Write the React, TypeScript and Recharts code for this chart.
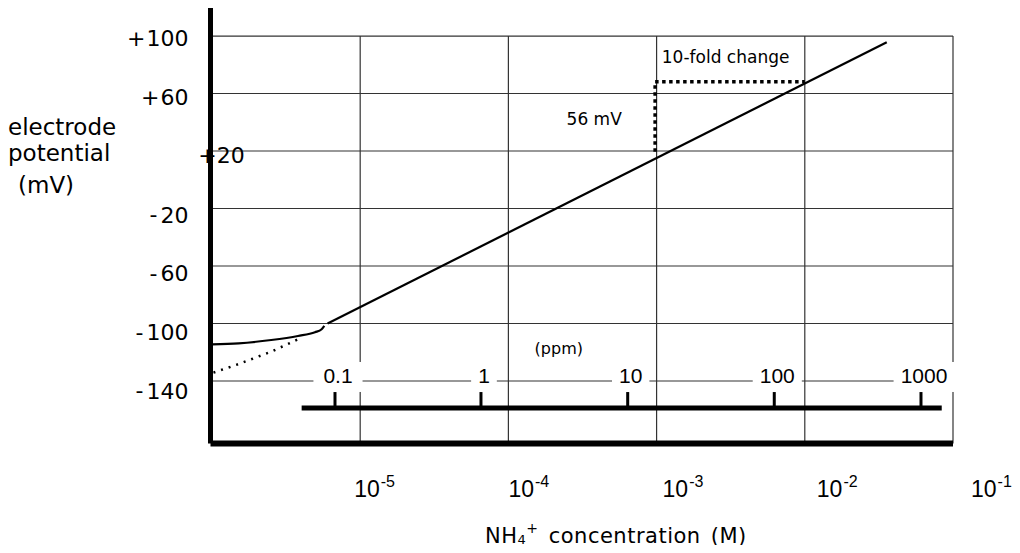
import {
    LineChart,
    Line,
    XAxis,
    YAxis,
    ReferenceLine,
    ReferenceDot,
} from "recharts";

// x = log10 of NH4+ concentration (M), y = electrode potential (mV)
const lowEndCurve = [
    { logC: -6.0, mV: -114.5 },
    { logC: -5.82, mV: -113.8 },
    { logC: -5.6, mV: -111.5 },
    { logC: -5.42, mV: -108.7 },
    { logC: -5.305, mV: -106.1 },
    { logC: -5.26, mV: -104.0 },
    { logC: -5.242, mV: -101.7 },
];

const nernstLine = [
    { logC: -5.22, mV: -100.0 },
    { logC: -1.447, mV: 95.6 },
];

const extrapolation = [
    { logC: -5.99, mV: -134.2 },
    { logC: -5.82, mV: -128.2 },
    { logC: -5.6, mV: -119.6 },
    { logC: -5.42, mV: -111.0 },
];

const tenFoldStep = [
    { logC: -3.01, mV: 19.5 },
    { logC: -3.01, mV: 68.2 },
    { logC: -2.0, mV: 68.2 },
];

const decades = [-5, -4, -3, -2, -1];
const mvTicks = [-140, -100, -60, -20, 20, 60, 100];

// ppm scale drawn inside the plot
const ppmLabels = ["0.1", "1", "10", "100", "1000"];
const ppmLogC = [-5.17, -4.185, -3.195, -2.206, -1.216];
const ppmBarEnds = [-5.395, -1.076];

const X_DOMAIN = [-6.01, -1];
const Y_DOMAIN = [-183.5, 119.5];
const PPM_BAR_MV = -158.8;
const PPM_TICK_TOP_MV = -147.7;

const sans = '"DejaVu Sans", sans-serif';
const arial = '"Liberation Sans", Arial, sans-serif';
const gridColor = "#333";

function XTick(props: any) {
    const { x, y, payload } = props;
    const v = payload.value;
    // labels sit a little right of their grid lines, more so further right
    const dx = -6 + (v + 5) * 6;
    return (
        <text
            x={x + dx}
            y={y + 53.5}
            fontFamily={'"Liberation Sans Narrow", "Liberation Sans", sans-serif'}
            fontSize={23}
            fill="#000"
        >
            10
            <tspan dx={1} dy={-10} fontSize={16}>
                {String(v)}
            </tspan>
        </text>
    );
}

function YTick(props: any) {
    const { x, y, payload } = props;
    const v = payload.value;
    const dy = 2.3 + ((100 - v) / 240) * 7.5;
    const sign = v > 0 ? "+" : "-";
    const num = String(Math.abs(v));
    if (v === 20) {
        return (
            <text x={x - 12.2} y={y + dy} dominantBaseline="central" fontFamily={sans} fontSize={22} fill="#000">
                {sign}
                {num}
            </text>
        );
    }
    return (
        <text
            x={x - 22}
            y={y + dy}
            textAnchor="end"
            dominantBaseline="central"
            fontFamily={sans}
            fontSize={22}
            fill="#000"
        >
            {sign}
            <tspan dx={v < 0 ? 3 : 1}>{num}</tspan>
        </text>
    );
}

function ppmLabelShape(text: string) {
    return (p: any) => {
        const w = text.length * 11.7 + 14;
        return (
            <g>
                <rect x={p.cx - w / 2 + 3} y={p.cy - 19} width={w} height={30} fill="#fff" />
                <text x={p.cx + 3} y={p.cy + 2.5} textAnchor="middle" fontFamily={arial} fontSize={21} fill="#000">
                    {text}
                </text>
            </g>
        );
    };
}

function noteShape(text: string, dx: number, dy: number, anchor: string, size: number) {
    return (p: any) => (
        <text x={p.cx + dx} y={p.cy + dy} textAnchor={anchor} fontFamily={sans} fontSize={size} fill="#000">
            {text}
        </text>
    );
}

export default function App() {
    return (
        <div style={{ position: "relative", width: 1012, height: 537 }}>
            <LineChart
                width={1012}
                height={537}
                margin={{ top: 0, right: 67, bottom: 41.5, left: 0 }}
            >
                <XAxis
                    type="number"
                    dataKey="logC"
                    domain={X_DOMAIN}
                    ticks={decades}
                    allowDataOverflow
                    height={60}
                    tickSize={0}
                    tickMargin={0}
                    tickLine={false}
                    tick={<XTick />}
                    axisLine={{ stroke: "#000", strokeWidth: 6 }}
                />
                <YAxis
                    type="number"
                    dataKey="mV"
                    domain={Y_DOMAIN}
                    ticks={mvTicks}
                    allowDataOverflow
                    width={202.5}
                    tickSize={0}
                    tickMargin={0}
                    tickLine={false}
                    tick={<YTick />}
                    axisLine={{ stroke: "#000", strokeWidth: 5 }}
                />
                {mvTicks.map((v) => (
                    <ReferenceLine key={"h" + v} y={v} stroke={gridColor} strokeWidth={1.2} />
                ))}
                {decades.map((d) => (
                    <ReferenceLine
                        key={"v" + d}
                        segment={[
                            { x: d, y: 100 },
                            { x: d, y: Y_DOMAIN[0] },
                        ]}
                        stroke={gridColor}
                        strokeWidth={1.2}
                    />
                ))}
                <ReferenceLine
                    segment={[
                        { x: ppmBarEnds[0], y: PPM_BAR_MV },
                        { x: ppmBarEnds[1], y: PPM_BAR_MV },
                    ]}
                    stroke="#000"
                    strokeWidth={5}
                />
                {ppmLogC.map((c, i) => (
                    <ReferenceLine
                        key={"pt" + i}
                        segment={[
                            { x: c, y: PPM_BAR_MV },
                            { x: c, y: PPM_TICK_TOP_MV },
                        ]}
                        stroke="#000"
                        strokeWidth={3}
                    />
                ))}
                {ppmLogC.map((c, i) => (
                    <ReferenceDot key={"pl" + i} x={c} y={-140} r={0} shape={ppmLabelShape(ppmLabels[i])} />
                ))}
                <ReferenceDot x={-3.66} y={-140} r={0} shape={noteShape("(ppm)", 0, -27, "middle", 16)} />
                <ReferenceDot x={-3.01} y={68.2} r={0} shape={noteShape("10-fold change", 6.7, -18.7, "start", 17)} />
                <ReferenceDot x={-3.01} y={19.5} r={0} shape={noteShape("56 mV", -33.3, -26.7, "end", 17)} />
                <Line
                    data={extrapolation}
                    dataKey="mV"
                    type="linear"
                    stroke="#000"
                    strokeWidth={2.5}
                    strokeDasharray="2 6"
                    dot={false}
                    activeDot={false}
                    isAnimationActive={false}
                />
                <Line
                    data={lowEndCurve}
                    dataKey="mV"
                    type="monotone"
                    stroke="#000"
                    strokeWidth={2.2}
                    dot={false}
                    activeDot={false}
                    isAnimationActive={false}
                />
                <Line
                    data={nernstLine}
                    dataKey="mV"
                    type="linear"
                    stroke="#000"
                    strokeWidth={2.2}
                    dot={false}
                    activeDot={false}
                    isAnimationActive={false}
                />
                <Line
                    data={tenFoldStep}
                    dataKey="mV"
                    type="linear"
                    stroke="#000"
                    strokeWidth={3.5}
                    strokeDasharray="3.5 3.5"
                    dot={false}
                    activeDot={false}
                    isAnimationActive={false}
                />
            </LineChart>
            <div style={{ position: "absolute", left: 0, top: 107.5, fontFamily: sans, fontSize: 23, lineHeight: "23px", whiteSpace: "nowrap" }}>
                electrode
            </div>
            <div style={{ position: "absolute", left: 0, top: 134, fontFamily: sans, fontSize: 23, lineHeight: "23px", whiteSpace: "nowrap" }}>
                potential
            </div>
            <div style={{ position: "absolute", left: 10, top: 165.8, fontFamily: sans, fontSize: 23, lineHeight: "23px", whiteSpace: "nowrap" }}>
                (mV)
            </div>
            <div
                style={{
                    position: "absolute",
                    left: 477,
                    top: 517.5,
                    fontFamily: sans,
                    fontSize: 21,
                    lineHeight: "21px",
                    letterSpacing: "0.5px",
                    wordSpacing: "3px",
                    whiteSpace: "nowrap",
                }}
            >
                NH
                <sub style={{ fontSize: 13, verticalAlign: "-1px", lineHeight: 0 }}>4</sub>
                <sup style={{ fontSize: 14, verticalAlign: "10px", lineHeight: 0 }}>+</sup> concentration (M)
            </div>
        </div>
    );
}
